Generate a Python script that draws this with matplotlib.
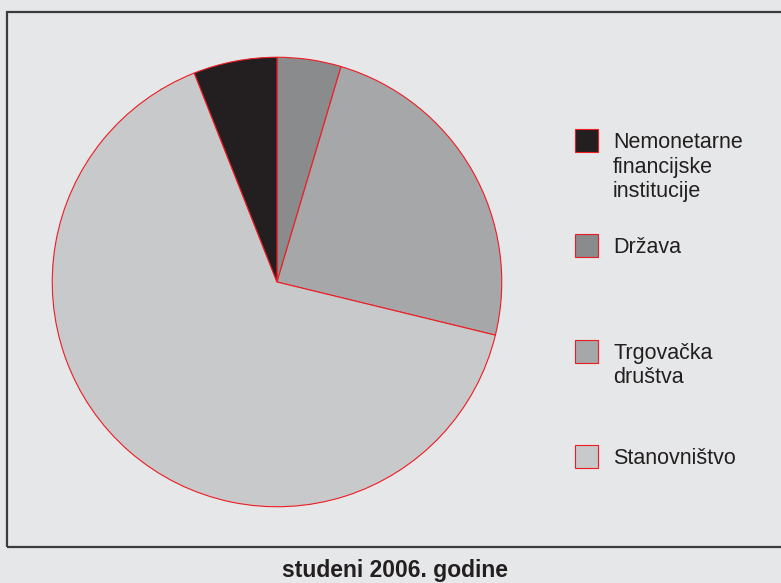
import matplotlib.pyplot as plt
from matplotlib.patches import Rectangle

# -------- Podaci --------
sektori = ["Država", "Trgovačka društva", "Stanovništvo", "Nemonetarne financijske institucije"]
udjeli = [4.6, 24.2, 65.2, 6.0]
boje = ["#8a8b8c", "#a6a7a9", "#c8c9ca", "#231f20"]

legenda_redovi = [
    ["Nemonetarne", "financijske", "institucije"],
    ["Država"],
    ["Trgovačka", "društva"],
    ["Stanovništvo"],
]
legenda_boje = ["#231f20", "#8a8b8c", "#a6a7a9", "#c8c9ca"]

naslov = "studeni 2006. godine"

# -------- Slika --------
W, H = 781, 583
pozadina = "#e6e7e8"
fig = plt.figure(figsize=(W / 100, H / 100), dpi=100, facecolor=pozadina)

def fx(x):
    return x / W

def fy(y):
    return 1 - y / H

# okvir
fig.patches.append(Rectangle((fx(7), fy(547)), fx(800) - fx(7), fy(12) - fy(547),
                             transform=fig.transFigure, fill=False,
                             edgecolor="#3c3c3c", linewidth=1.6))

# -------- Pita --------
cx, cy, r = 277, 282, 227
ax = fig.add_axes([fx(cx - r), fy(cy + r), 2 * r / W, 2 * r / H])
ax.pie(udjeli, colors=boje, startangle=90, counterclock=False, radius=1,
       wedgeprops=dict(edgecolor="#ed1c24", linewidth=0.8))
ax.set_xlim(-1.01, 1.01)
ax.set_ylim(-1.01, 1.01)
ax.set_aspect("equal")
ax.axis("off")

# -------- Legenda --------
font = ["Liberation Sans", "DejaVu Sans"]
for i, (redovi, boja) in enumerate(zip(legenda_redovi, legenda_boje)):
    top = 129 + i * 105.3
    fig.patches.append(Rectangle((fx(575), fy(top + 23)), 23 / W, 23 / H,
                                 transform=fig.transFigure, facecolor=boja,
                                 edgecolor="#ed1c24", linewidth=0.8))
    for j, red in enumerate(redovi):
        fig.text(fx(613), fy(top + 19 + j * 24.5), red, fontsize=15.5,
                 family=font, color="#231f20", va="baseline", ha="left")

# -------- Naslov --------
fig.text(fx(395.5), fy(577), naslov, fontsize=16.5, fontweight="bold",
         family=font, color="#231f20", ha="center", va="baseline")

fig.savefig("out.png", dpi=100, facecolor=pozadina)
